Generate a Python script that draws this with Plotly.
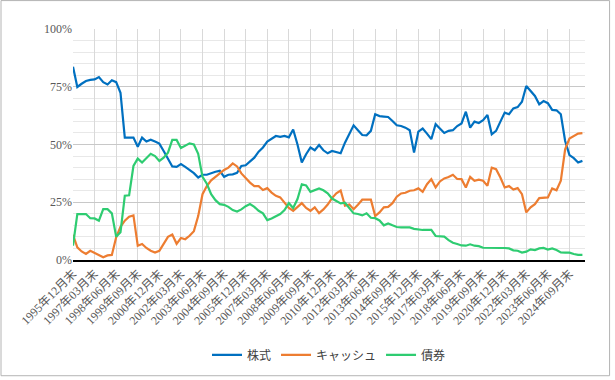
import plotly.graph_objects as go

# Quarter-end categories, 1995/12 through 2025/06
quarters = []
y, m = 1995, 12
for _ in range(119):
    quarters.append(f"{y}年{m:02d}月末")
    m += 3
    if m > 12:
        m -= 12
        y += 1

stocks = [83.7, 74.9, 76.3, 77.5, 78.0, 78.2, 79.2, 77.0, 76.0, 77.8,
          77.0, 72.4, 53.0, 53.0, 53.0, 49.0, 53.0, 51.3, 52.1, 51.3,
          50.4, 47.2, 43.6, 40.5, 40.3, 41.5, 40.3, 38.9, 37.6, 35.7,
          36.9, 36.9, 37.6, 38.2, 38.6, 36.0, 36.9, 37.1, 37.7, 40.7,
          41.0, 42.5, 44.3, 46.9, 48.7, 51.3, 52.6, 53.7, 53.3, 53.7,
          53.1, 56.5, 50.0, 42.2, 45.8, 48.7, 47.5, 49.8, 47.5, 46.2,
          47.2, 46.7, 46.2, 50.8, 54.4, 58.3, 56.2, 54.1, 54.0, 55.9,
          63.1, 62.3, 62.1, 61.9, 60.2, 58.3, 58.0, 57.3, 56.2, 46.5,
          55.6, 56.9, 54.7, 52.3, 58.8, 57.1, 55.0, 55.9, 56.2, 58.0,
          59.1, 64.2, 57.3, 59.9, 59.3, 60.5, 62.8, 54.4, 55.9, 59.9,
          63.8, 63.1, 65.6, 66.2, 68.5, 75.3, 73.1, 71.0, 67.4, 68.8,
          67.9, 65.0, 64.8, 63.1, 51.5, 45.4, 44.1, 42.2, 42.9]

cash = [10.9, 5.5, 3.7, 2.6, 4.0, 3.0, 2.0, 1.2, 2.0, 2.2,
        9.8, 14.4, 17.0, 18.7, 19.3, 6.2, 6.9, 5.2, 4.0, 3.2,
        4.0, 6.9, 10.0, 11.0, 7.0, 9.5, 9.0, 10.5, 12.5, 19.0,
        28.5, 32.0, 34.5, 36.0, 37.5, 39.0, 40.0, 41.8, 40.5, 37.5,
        35.5, 33.5, 32.0, 32.0, 30.3, 31.1, 29.2, 27.8, 27.1, 24.9,
        22.5, 21.3, 23.0, 24.6, 22.5, 21.3, 22.8, 20.3, 21.9, 24.0,
        26.8, 28.9, 30.1, 23.5, 24.0, 22.0, 23.9, 26.1, 26.1, 26.1,
        19.0, 20.6, 22.8, 23.0, 24.6, 27.4, 28.8, 29.1, 30.0, 30.2,
        31.0, 29.5, 32.8, 35.0, 31.4, 34.0, 35.3, 35.9, 36.9, 35.1,
        35.0, 31.4, 36.0, 34.3, 34.8, 34.3, 32.1, 40.0, 39.3, 35.7,
        31.4, 32.0, 30.5, 31.1, 28.5, 20.6, 22.8, 24.2, 26.8, 27.1,
        27.1, 31.0, 30.2, 34.3, 47.9, 52.6, 53.6, 54.7, 54.9]

bonds = [6.2, 19.9, 19.9, 19.9, 18.1, 18.0, 17.0, 22.0, 22.0, 20.2,
         10.1, 12.0, 27.8, 28.0, 40.7, 43.9, 42.2, 44.0, 46.0, 45.0,
         42.9, 44.3, 46.5, 52.0, 52.0, 48.5, 49.5, 50.5, 50.0, 46.0,
         36.0, 33.0, 28.5, 25.9, 24.2, 23.9, 23.0, 21.6, 21.0, 21.9,
         23.3, 24.2, 23.0, 21.3, 20.2, 17.3, 18.0, 18.9, 19.9, 21.6,
         24.6, 22.5, 26.4, 32.8, 32.3, 29.5, 30.1, 31.0, 30.2, 28.9,
         26.6, 25.6, 24.5, 24.8, 22.3, 20.2, 19.9, 19.3, 20.2, 18.3,
         18.1, 17.1, 15.0, 15.8, 15.0, 14.3, 14.1, 14.1, 14.1, 13.5,
         13.1, 13.0, 13.0, 13.0, 10.4, 10.1, 10.1, 8.6, 7.5, 6.9,
         6.3, 6.2, 6.8, 6.2, 6.0, 5.3, 5.2, 5.2, 5.2, 5.2,
         5.2, 5.0, 4.2, 4.0, 3.2, 3.6, 4.6, 4.3, 5.0, 5.2,
         4.5, 5.0, 4.3, 3.3, 3.2, 3.2, 2.6, 2.2, 2.2]

tick_labels = quarters[::5]

series_names = ["株式", "キャッシュ", "債券"]
colors = ["#0070C0", "#ED7D31", "#2ECC71"]

fig = go.Figure()
for name, vals, col in zip(series_names, [stocks, cash, bonds], colors):
    fig.add_trace(go.Scatter(x=quarters, y=vals, mode="lines", name=name,
                             line=dict(color=col, width=2.2)))

serif = "Liberation Serif, Noto Sans CJK JP, serif"
fig.update_layout(
    width=615, height=380,
    margin=dict(l=73, r=30, t=29, b=119),
    paper_bgcolor="white", plot_bgcolor="white",
    showlegend=True,
    legend=dict(orientation="h", x=0.5, xanchor="center", y=-0.405, yanchor="middle",
                font=dict(family="Noto Sans CJK JP, sans-serif", size=12, color="#404040"),
                itemwidth=30),
    xaxis=dict(type="category", categoryorder="array", categoryarray=quarters,
               range=[0, 118.6], tickmode="array", tickvals=tick_labels,
               tickangle=-45, showgrid=True, gridcolor="#d9d9d9", gridwidth=1,
               showline=True, linecolor="black", linewidth=2, ticks="",
               tickfont=dict(family=serif, size=12, color="#595959")),
    yaxis=dict(range=[0, 100], tickmode="linear", tick0=0, dtick=25, ticksuffix="%",
               showgrid=True, gridcolor="#c8c8c8", gridwidth=1, zeroline=False,
               showline=False, ticks="",
               minor=dict(dtick=5, showgrid=True, gridcolor="#e8e8e8", gridwidth=1),
               tickfont=dict(family=serif, size=12, color="#595959")),
)
fig.add_shape(type="rect", xref="paper", yref="paper",
              x0=-0.1406, x1=1.048, y0=-0.501, y1=1.123,
              line=dict(color="#b4b4b4", width=1), fillcolor="rgba(0,0,0,0)", layer="below")

fig.write_html("out.html", config={"displayModeBar": False},
               post_script="document.body.style.margin='0';")
